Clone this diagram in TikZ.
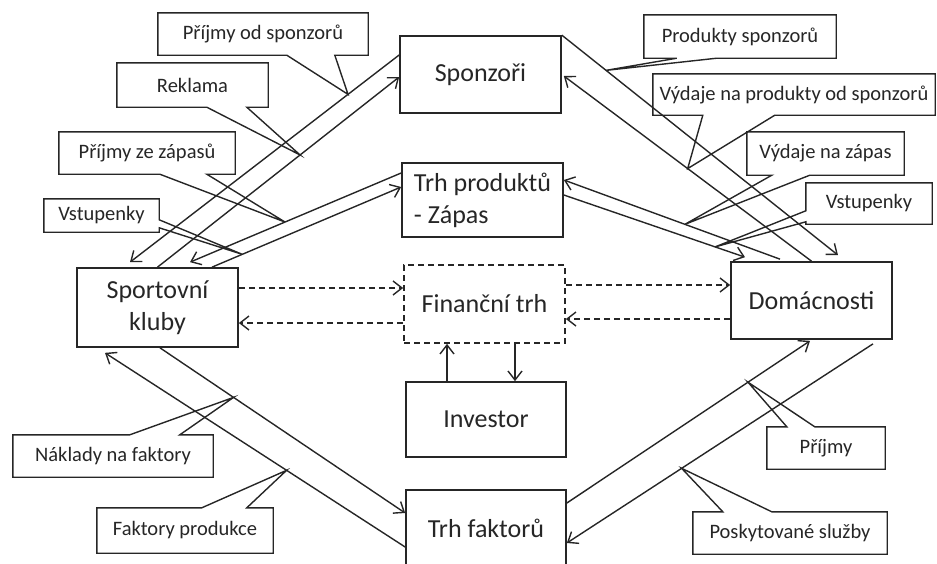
\documentclass[tikz,border=0pt]{standalone}
\usepackage{fontspec}
\setmainfont{Carlito}
\usetikzlibrary{arrows.meta,calc}

\begin{document}
\begin{tikzpicture}[
    >={Straight Barb[length=9pt,width=14pt]},
    x=1pt,
    y=-1pt,
    color=black!85,
    box/.style={draw, line width=1.7pt, minimum width=161pt, minimum height=77pt, inner sep=0pt, font=\fontsize{26}{32}\selectfont},
    market/.style={box, dash pattern=on 6pt off 4pt},
    note/.style={inner sep=0pt, font=\fontsize{20.5}{24}\selectfont},
    outline/.style={line width=1.4pt},
    flow/.style={->, line width=1.4pt},
    money/.style={->, line width=1.4pt, dash pattern=on 6pt off 4pt}
]

% page frame (pixel coordinates, y downwards)
\useasboundingbox (0,0) rectangle (937,563);

% ---------------- main boxes ----------------
\node[box] (spons) at (480.5,74.5) {Sponzoři};
\node[box, minimum height=74pt, align=left] (trh) at (482.5,200) {Trh produktů\\- Zápas};
\node[market, minimum height=78pt] (fin) at (484.5,304) {Finanční trh};
\node[box, minimum width=160pt, minimum height=75pt] (inv) at (486,419.5) {Investor};
\node[box, minimum width=160pt, minimum height=76pt] (fakt) at (486,528) {Trh faktorů};
\node[box, minimum height=79pt, align=center] (club) at (157.5,307.5) {Sportovní\\kluby};
\node[box] (dom) at (811.5,300.5) {Domácnosti};

% ---------------- clubs <-> sponsors / product market ----------------
\draw[flow] ($(spons.west)+(0,-19.5)$) -- ($(club.north)+(-27.5,-5)$) coordinate[pos=0.19] (t1);
\draw[flow] (club.north) -- ($(spons.west)+(0,2.5)$) coordinate[pos=0.59] (t2);
\draw[flow] ($(trh.west)+(0,-27)$) -- ($(club.north)+(32.5,-5)$) coordinate[pos=0.55] (t3);
\draw[flow] ($(club.north)+(54.5,0)$) -- ($(trh.west)+(0,-13)$) coordinate[pos=0.16] (t4);

% ---------------- households <-> sponsors / product market ----------------
\draw[flow] (spons.north east) -- ($(dom.north)+(26.5,-6)$) coordinate[pos=0.16] (t5);
\draw[flow] (dom.north) -- ($(spons.east)+(2,1.5)$) coordinate[pos=0.5] (t6);
\draw[flow] ($(dom.north)+(-31.5,-2)$) -- ($(trh.east)+(0,-20)$) coordinate[pos=0.44] (t7);
\draw[flow] ($(trh.east)+(0,-5)$) -- ($(dom.north)+(-66.5,-4)$) coordinate[pos=0.835] (t8);

% ---------------- financial market ----------------
\draw[money] ($(club.east)+(0,-19.5)$) -- ($(fin.west)+(0,-16)$);
\draw[money] ($(fin.west)+(0,19)$) -- ($(club.east)+(0,15.5)$);
\draw[money] ($(fin.east)+(0,-19)$) -- ($(dom.west)+(0,-15.5)$);
\draw[money] ($(dom.west)+(0,18.5)$) -- ($(fin.east)+(0,15)$);
\draw[flow] ($(inv.north)+(-39,0)$) -- ($(fin.south)+(-37.5,0)$);
\draw[flow] ($(fin.south)+(30.5,0)$) -- ($(inv.north)+(29,0)$);

% ---------------- factor market ----------------
\draw[flow] ($(club.south)+(2.5,0)$) -- ($(fakt.west)+(0,-15)$) coordinate[pos=0.3] (t9);
\draw[flow] ($(fakt.west)+(0,19)$) -- ($(club.south)+(-52.5,5)$) coordinate[pos=0.395] (t10);
\draw[flow] ($(fakt.east)+(0,-25)$) -- ($(dom.south)+(-1.5,1)$) coordinate[pos=0.745] (t11);
\draw[flow] ($(dom.south)+(61.5,4)$) -- ($(fakt.east)+(0,15)$) coordinate[pos=0.625] (t12);

% ---------------- callout labels ----------------
\node[note, minimum width=210pt, minimum height=42pt] (c1) at (263,34) {Příjmy od sponzorů};
\node[note, minimum width=151pt, minimum height=44pt] (c2) at (192.5,85) {Reklama};
\node[note, minimum width=176pt, minimum height=42pt] (c3) at (147,153) {Příjmy ze zápasů};
\node[note, minimum width=115pt, minimum height=33pt] (c4) at (101.5,215.5) {Vstupenky};
\node[note, minimum width=192pt, minimum height=43pt] (c5) at (740,36.5) {Produkty sponzorů};
\node[note, minimum width=282pt, minimum height=41pt] (c6) at (794,94.5) {Výdaje na produkty od sponzorů};
\node[note, minimum width=157pt, minimum height=43pt] (c7) at (825.5,153.5) {Výdaje na zápas};
\node[note, minimum width=126pt, minimum height=41pt] (c8) at (869,203.5) {Vstupenky};
\node[note, minimum width=200pt, minimum height=42pt] (c9) at (113,456) {Náklady na faktory};
\node[note, minimum width=176pt, minimum height=45pt] (c10) at (185,530.5) {Faktory produkce};
\node[note, minimum width=118pt, minimum height=42pt] (c11) at (826,448) {Příjmy};
\node[note, minimum width=194pt, minimum height=42pt] (c12) at (790,533) {Poskytované služby};

% pointer on the lower side
\draw[outline] (c1.south west) -- (c1.north west) -- (c1.north east) -- (c1.south east) -- ($(c1.south west)+(177,0)$) -- (t1) -- ($(c1.south west)+(129,0)$) -- cycle;
\draw[outline] (c2.south west) -- (c2.north west) -- (c2.north east) -- (c2.south east) -- ($(c2.south west)+(130,0)$) -- (t2) -- ($(c2.south west)+(90,0)$) -- cycle;
\draw[outline] (c3.south west) -- (c3.north west) -- (c3.north east) -- (c3.south east) -- ($(c3.south west)+(148,0)$) -- (t3) -- ($(c3.south west)+(101,0)$) -- cycle;
\draw[outline] (c5.south west) -- (c5.north west) -- (c5.north east) -- (c5.south east) -- ($(c5.south west)+(73,0)$) -- (t5) -- ($(c5.south west)+(33,0)$) -- cycle;
\draw[outline] (c6.south west) -- (c6.north west) -- (c6.north east) -- (c6.south east) -- ($(c6.south west)+(122,0)$) -- (t6) -- ($(c6.south west)+(50,0)$) -- cycle;
\draw[outline] (c7.south west) -- (c7.north west) -- (c7.north east) -- (c7.south east) -- ($(c7.south west)+(63,0)$) -- (t7) -- ($(c7.south west)+(25,0)$) -- cycle;

% pointer on a side
\draw[outline] (c4.north west) -- (c4.north east) -- ($(c4.north east)+(0,21)$) -- (t4) -- ($(c4.north east)+(0,29)$) -- (c4.south east) -- (c4.south west) -- cycle;
\draw[outline] (c8.north east) -- (c8.north west) -- ($(c8.north west)+(0,28)$) -- (t8) -- ($(c8.north west)+(0,39)$) -- (c8.south west) -- (c8.south east) -- cycle;

% pointer on the upper side
\draw[outline] (c9.north west) -- ($(c9.north west)+(117,0)$) -- (t9) -- ($(c9.north west)+(167,0)$) -- (c9.north east) -- (c9.south east) -- (c9.south west) -- cycle;
\draw[outline] (c10.north west) -- ($(c10.north west)+(105,0)$) -- (t10) -- ($(c10.north west)+(150,0)$) -- (c10.north east) -- (c10.south east) -- (c10.south west) -- cycle;
\draw[outline] (c11.north west) -- ($(c11.north west)+(20,0)$) -- (t11) -- ($(c11.north west)+(48,0)$) -- (c11.north east) -- (c11.south east) -- (c11.south west) -- cycle;
\draw[outline] (c12.north west) -- ($(c12.north west)+(30,0)$) -- (t12) -- ($(c12.north west)+(79,0)$) -- (c12.north east) -- (c12.south east) -- (c12.south west) -- cycle;

\end{tikzpicture}
\end{document}
